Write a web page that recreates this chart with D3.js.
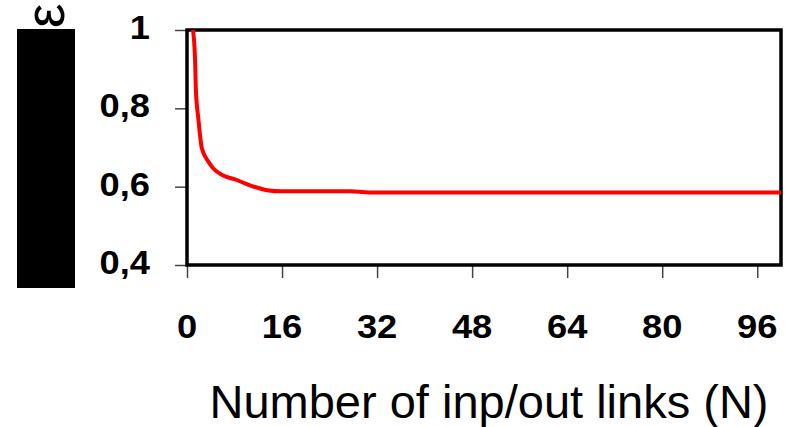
<!DOCTYPE html>
<html>
<head>
<meta charset="utf-8">
<script src="https://cdn.jsdelivr.net/npm/d3@7"></script>
<style>
  html, body { margin: 0; padding: 0; background: #fff; }
  svg { display: block; font-family: "Liberation Sans", Arial, sans-serif; }
</style>
</head>
<body>
<svg id="chart" width="788" height="427"></svg>
<script>
// ---- data ----
const linksN = [1, 1.35, 1.5, 1.9, 2.5, 3.6, 4.4, 6, 8, 10.5, 13.5, 16, 27.5, 31.5, 100];
const epsilon = [1.0, 0.928, 0.845, 0.775, 0.698, 0.664, 0.647, 0.629, 0.619, 0.604, 0.591, 0.588, 0.588, 0.585, 0.585];
const xTicks = [0, 16, 32, 48, 64, 80, 96];
const yTicks = [0.4, 0.6, 0.8, 1];
const xTitle = "Number of inp/out links (N)";
const yTitle = "ε";

const svg = d3.select("#chart");
const pL = 187, pR = 781, pT = 30, pB = 265;

const x = d3.scaleLinear().domain([0, 100]).range([pL, pR]);
const y = d3.scaleLinear().domain([0.4, 1]).range([pB, pT]);

// y label block (rotated title)
svg.append("rect").attr("x", 17).attr("y", 29).attr("width", 58).attr("height", 259).attr("fill", "#000");
svg.append("text").attr("transform", "translate(64,28) rotate(-90)")
  .attr("text-anchor", "start")
  .attr("font-size", 55).attr("fill", "#000").text(yTitle);

// y axis ticks
const yAxis = svg.append("g").attr("transform", `translate(${pL},0)`)
  .call(d3.axisLeft(y).tickValues(yTicks).tickSize(12).tickFormat(""));
yAxis.select(".domain").remove();
yAxis.selectAll("line").attr("stroke", "#444").attr("stroke-width", 1.5);

// x axis ticks
const xAxis = svg.append("g").attr("transform", `translate(0,${pB})`)
  .call(d3.axisBottom(x).tickValues(xTicks).tickSize(13).tickFormat(""));
xAxis.select(".domain").remove();
xAxis.selectAll("line").attr("stroke", "#444").attr("stroke-width", 1.5);

// y tick labels
const fmtY = d => d === 1 ? "1" : d3.format(".1f")(d).replace(".", ",");
svg.append("g").selectAll("text").data(yTicks).join("text")
  .attr("transform", d => `translate(150,${y(d) + 9}) scale(1.1,1)`)
  .attr("text-anchor", "end")
  .attr("font-size", 33).attr("font-weight", "bold").attr("fill", "#000")
  .text(fmtY);

// x tick labels
svg.append("g").selectAll("text").data(xTicks).join("text")
  .attr("transform", d => `translate(${x(d)},338) scale(1.1,1)`)
  .attr("text-anchor", "middle")
  .attr("font-size", 33).attr("font-weight", "bold").attr("fill", "#000")
  .text(d => d);

// frame
svg.append("rect").attr("x", pL).attr("y", pT)
  .attr("width", pR - pL).attr("height", pB - pT)
  .attr("fill", "none").attr("stroke", "#000").attr("stroke-width", 3.5);

// curve
const line = d3.line().x((d, i) => x(linksN[i])).y(d => y(d)).curve(d3.curveMonotoneX);
svg.append("path").datum(epsilon).attr("d", line)
  .attr("fill", "none").attr("stroke", "#ff0000").attr("stroke-width", 4)
  .attr("stroke-linejoin", "round");

// x title
svg.append("text").attr("x", 489).attr("y", 418).attr("text-anchor", "middle")
  .attr("font-size", 47).attr("fill", "#000").text(xTitle);
</script>
</body>
</html>
